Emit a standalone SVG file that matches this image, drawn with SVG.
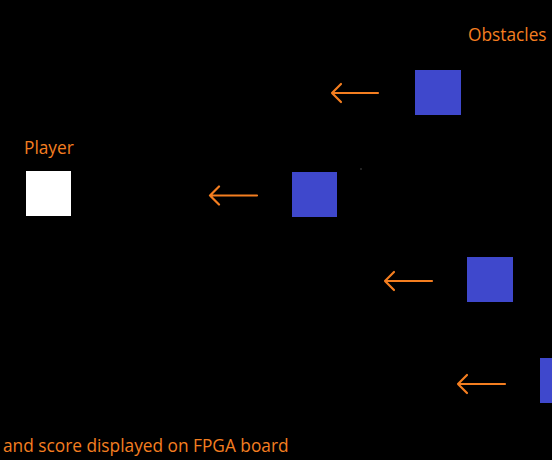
<svg xmlns="http://www.w3.org/2000/svg" width="552" height="460" viewBox="0 0 552 460">
<style>
.lbl{font-family:"Open Sans","Noto Sans","Liberation Sans",sans-serif;font-size:17.3px;fill:#F47E20}
.obs{fill:#3F48CC}
.arr{stroke:#F47E20;stroke-width:2.2;fill:none;stroke-linecap:round;stroke-linejoin:round}
</style>
<rect width="552" height="460" fill="#000"/>
<g id="player">
<text class="lbl" x="24" y="154">Player</text>
<rect x="26" y="171" width="45" height="45" fill="#fff"/>
</g>
<g id="obstacles-label"><text class="lbl" x="468" y="41">Obstacles</text></g>
<g id="obstacle1"><rect class="obs" x="415" y="70" width="46" height="45"/></g>
<g id="obstacle2"><rect class="obs" x="292" y="172" width="45" height="45"/></g>
<g id="obstacle3"><rect class="obs" x="467" y="257" width="46" height="45"/></g>
<g id="obstacle4"><rect class="obs" x="540" y="358" width="46" height="45"/></g>
<g id="connectors">
<path class="arr" d="M378 93H332M341 84L332 93L341 102"/>
<path class="arr" d="M257 195.5H210M219 186.5L210 195.5L219 204.5"/>
<path class="arr" d="M432 281H385M394 272L385 281L394 290"/>
<path class="arr" d="M505 384H458M467 375L458 384L467 393"/>
</g>
<rect x="360.5" y="168.5" width="1" height="1" fill="#888"/>
<g id="footer"><text class="lbl" x="3" y="452">and score displayed on FPGA board</text></g>
</svg>
